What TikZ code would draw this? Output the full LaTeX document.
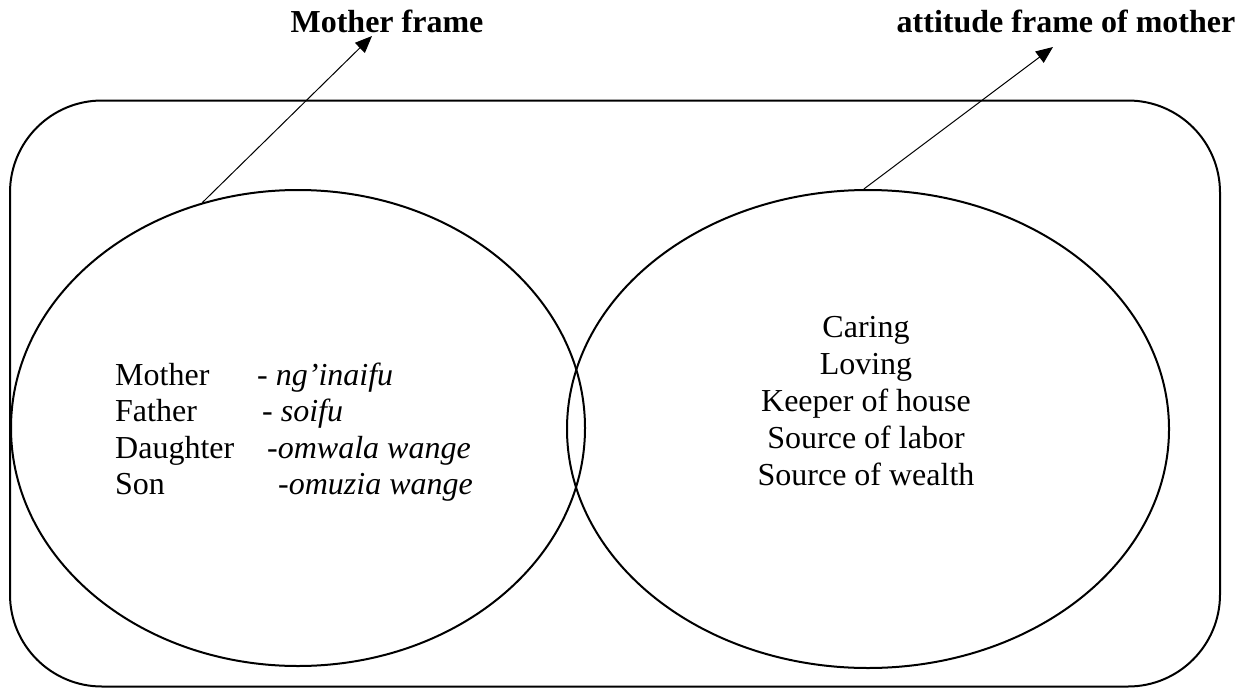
\documentclass[tikz,border=0pt]{standalone}
\usepackage{fontspec}
\setmainfont{Liberation Serif}
\usetikzlibrary{shapes.geometric,arrows.meta}
\begin{document}
\begin{tikzpicture}[x=1pt,y=-1pt,
  frameline/.style={draw,line width=2pt},
  pointer/.style={line width=1pt,-{Triangle[length=17pt,width=14pt]}},
  body/.style={font=\fontsize{32}{37}\selectfont,inner sep=0pt,anchor=base},
  bodyw/.style={body,anchor=base west},
  heading/.style={font=\fontsize{32}{37}\selectfont\bfseries,inner sep=0pt,anchor=base}]
\useasboundingbox (0,0) rectangle (1250,688);

% outer frame
\node[frameline,rounded corners=92pt,minimum width=1210pt,minimum height=586pt,inner sep=0pt]
  (outer) at (615,393.5) {};

% the two frames
\node[frameline,ellipse,minimum width=574pt,minimum height=476pt,inner sep=0pt]
  (left) at (298,428) {};
\node[frameline,ellipse,minimum width=602pt,minimum height=478pt,inner sep=0pt]
  (right) at (868,429) {};

% headings
\node[heading] (lhead) at (387,32) {Mother frame};
\node[heading] (rhead) at (1066,32) {attitude frame of mother};

% pointers from the frames to their headings
\coordinate (ltip) at (372,36);
\coordinate (rtip) at (1053,47);
\draw[pointer] (left.113) -- (ltip);
\draw[pointer] (right.91) -- (rtip);

% kinship terms
\node[bodyw] (k1) at (115,385) {Mother};
\node[bodyw] (k2) at (115,421.5) {Father};
\node[bodyw] (k3) at (115,458) {Daughter};
\node[bodyw] (k4) at (115,494.5) {Son};
\node[bodyw] (t1) at (257,385) {- \textit{ng’inaifu}};
\node[bodyw] (t2) at (262,421.5) {- \textit{soifu}};
\node[bodyw] (t3) at (267,458) {\textit{-omwala wange}};
\node[bodyw] (t4) at (278,494.5) {\textit{-omuzia wange}};

% attitudes
\node[body] (a1) at (866,337) {Caring};
\node[body] (a2) at (866,374) {Loving};
\node[body] (a3) at (866,411) {Keeper of house};
\node[body] (a4) at (866,448) {Source of labor};
\node[body] (a5) at (866,485) {Source of wealth};
\end{tikzpicture}
\end{document}
